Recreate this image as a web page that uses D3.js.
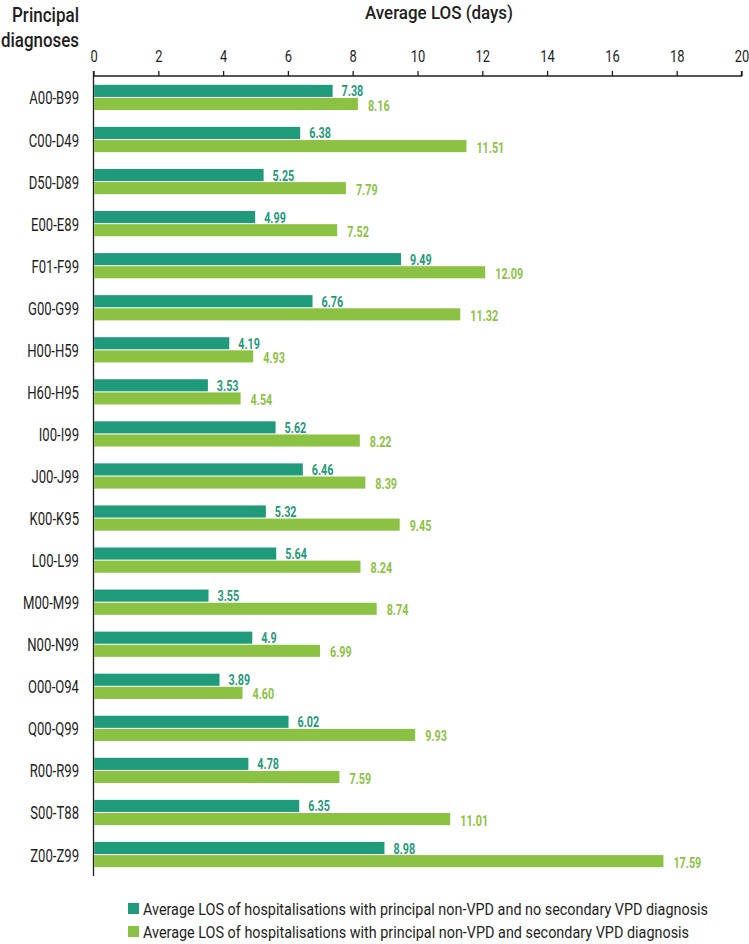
<!DOCTYPE html>
<html>
<head>
<meta charset="utf-8">
<script src="https://cdn.jsdelivr.net/npm/d3@7"></script>
<style>
  html, body { margin: 0; padding: 0; background: #ffffff; }
  svg { display: block; }
  text { font-family: Roboto, "Noto Sans", sans-serif; }
</style>
</head>
<body>
<div id="chart"></div>
<script>
const categories = ["A00-B99","C00-D49","D50-D89","E00-E89","F01-F99","G00-G99","H00-H59","H60-H95","I00-I99","J00-J99","K00-K95","L00-L99","M00-M99","N00-N99","O00-O94","Q00-Q99","R00-R99","S00-T88","Z00-Z99"];
const noSecondaryVPD = [7.38,6.38,5.25,4.99,9.49,6.76,4.19,3.53,5.62,6.46,5.32,5.64,3.55,4.9,3.89,6.02,4.78,6.35,8.98];
const noSecondaryLabels = ["7.38","6.38","5.25","4.99","9.49","6.76","4.19","3.53","5.62","6.46","5.32","5.64","3.55","4.9","3.89","6.02","4.78","6.35","8.98"];
const withSecondaryVPD = [8.16,11.51,7.79,7.52,12.09,11.32,4.93,4.54,8.22,8.39,9.45,8.24,8.74,6.99,4.60,9.93,7.59,11.01,17.59];
const withSecondaryLabels = ["8.16","11.51","7.79","7.52","12.09","11.32","4.93","4.54","8.22","8.39","9.45","8.24","8.74","6.99","4.60","9.93","7.59","11.01","17.59"];
const xTicks = [0,2,4,6,8,10,12,14,16,18,20];
const seriesNames = [
  "Average LOS of hospitalisations with principal non-VPD and no secondary VPD diagnosis",
  "Average LOS of hospitalisations with principal non-VPD and secondary VPD diagnosis"
];
const xTitle = "Average LOS (days)";
const yTitle = ["Principal", "diagnoses"];

const W = 749, H = 944;
const darkColor = "#1f9a7a", lightColor = "#8cc243", ink = "#1e1e1e";

const svg = d3.select("#chart").append("svg").attr("width", W).attr("height", H);

const x = d3.scaleLinear().domain([0, 20]).range([93.5, 741.5]);
const y = d3.scaleBand().domain(categories).range([76, 876]).paddingInner(0.4).paddingOuter(0.21);
const sub = d3.scaleBand().domain([0, 1]).range([0, y.bandwidth()]).paddingInner(0.08);

const tr = (tx, ty, s) => `translate(${tx},${ty}) scale(${s},1)`;

// Axis on top
const axis = d3.axisTop(x).tickValues(xTicks).tickSize(5).tickPadding(8).tickFormat(d3.format("d"));
const gx = svg.append("g").attr("transform", "translate(0,76)").call(axis);
gx.select(".domain").attr("stroke", ink).attr("stroke-width", 1.3).attr("d", `M${x(0)},-5V0H${x(20)}V-5`);
gx.selectAll(".tick line").attr("stroke", ink).attr("stroke-width", 1.3);
gx.selectAll(".tick text").attr("fill", ink).style("font-size", "17px")
  .attr("y", null).attr("dy", null)
  .attr("transform", "translate(0,-14) scale(0.76,1)");

// y axis line
svg.append("line").attr("x1", x(0)).attr("x2", x(0)).attr("y1", 76).attr("y2", 876)
  .attr("stroke", ink).attr("stroke-width", 1.3);

// Category labels
svg.append("g").selectAll("text").data(categories).join("text")
  .attr("transform", d => tr(79, y(d) + y.bandwidth() / 2 + 7, 0.69))
  .attr("text-anchor", "end")
  .attr("fill", ink).style("font-size", "19px").text(d => d);

const rows = categories.map((c, i) => ({ c, a: noSecondaryVPD[i], al: noSecondaryLabels[i], b: withSecondaryVPD[i], bl: withSecondaryLabels[i] }));

const g = svg.append("g");
// dark bars
g.selectAll("rect.a").data(rows).join("rect").attr("class", "a")
  .attr("x", x(0) + 0.7).attr("y", d => y(d.c) + sub(0))
  .attr("width", d => x(d.a) - x(0) - 0.7).attr("height", sub.bandwidth())
  .attr("fill", darkColor);
g.selectAll("rect.b").data(rows).join("rect").attr("class", "b")
  .attr("x", x(0) + 0.7).attr("y", d => y(d.c) + sub(1))
  .attr("width", d => x(d.b) - x(0) - 0.7).attr("height", sub.bandwidth())
  .attr("fill", lightColor);

// value labels
g.selectAll("text.a").data(rows).join("text").attr("class", "a")
  .attr("transform", d => tr(x(d.a) + 9, y(d.c) + sub(0) + sub.bandwidth() - 0.5, 0.72))
  .attr("fill", darkColor).style("font-size", "15px").style("font-weight", "bold")
  .text(d => d.al);
g.selectAll("text.b").data(rows).join("text").attr("class", "b")
  .attr("transform", d => tr(x(d.b) + 10, y(d.c) + sub(1) + sub.bandwidth() + 0.5, 0.72))
  .attr("fill", lightColor).style("font-size", "15px").style("font-weight", "bold")
  .text(d => d.bl);

// Titles
svg.append("text").attr("x", 365).attr("y", 18.5)
  .attr("textLength", 148).attr("lengthAdjust", "spacingAndGlyphs")
  .attr("fill", ink).style("font-size", "18.5px").style("font-weight", "500").text(xTitle);
svg.append("text").attr("x", 12).attr("y", 22)
  .attr("textLength", 67).attr("lengthAdjust", "spacingAndGlyphs")
  .attr("fill", ink).style("font-size", "20px").style("font-weight", "500").text(yTitle[0]);
svg.append("text").attr("x", 1).attr("y", 47)
  .attr("textLength", 78).attr("lengthAdjust", "spacingAndGlyphs")
  .attr("fill", ink).style("font-size", "20px").style("font-weight", "500").text(yTitle[1]);

// Legend
const legend = svg.append("g");
const lc = [darkColor, lightColor];
const legendLen = [565, 546];
seriesNames.forEach((name, i) => {
  const ly = 903 + i * 23;
  legend.append("rect").attr("x", 128).attr("y", ly).attr("width", 11).attr("height", 11).attr("fill", lc[i]);
  legend.append("text").attr("x", 143).attr("y", ly + 12)
    .attr("textLength", legendLen[i]).attr("lengthAdjust", "spacingAndGlyphs")
    .attr("fill", ink).style("font-size", "17px").text(name);
});
</script>
</body>
</html>
